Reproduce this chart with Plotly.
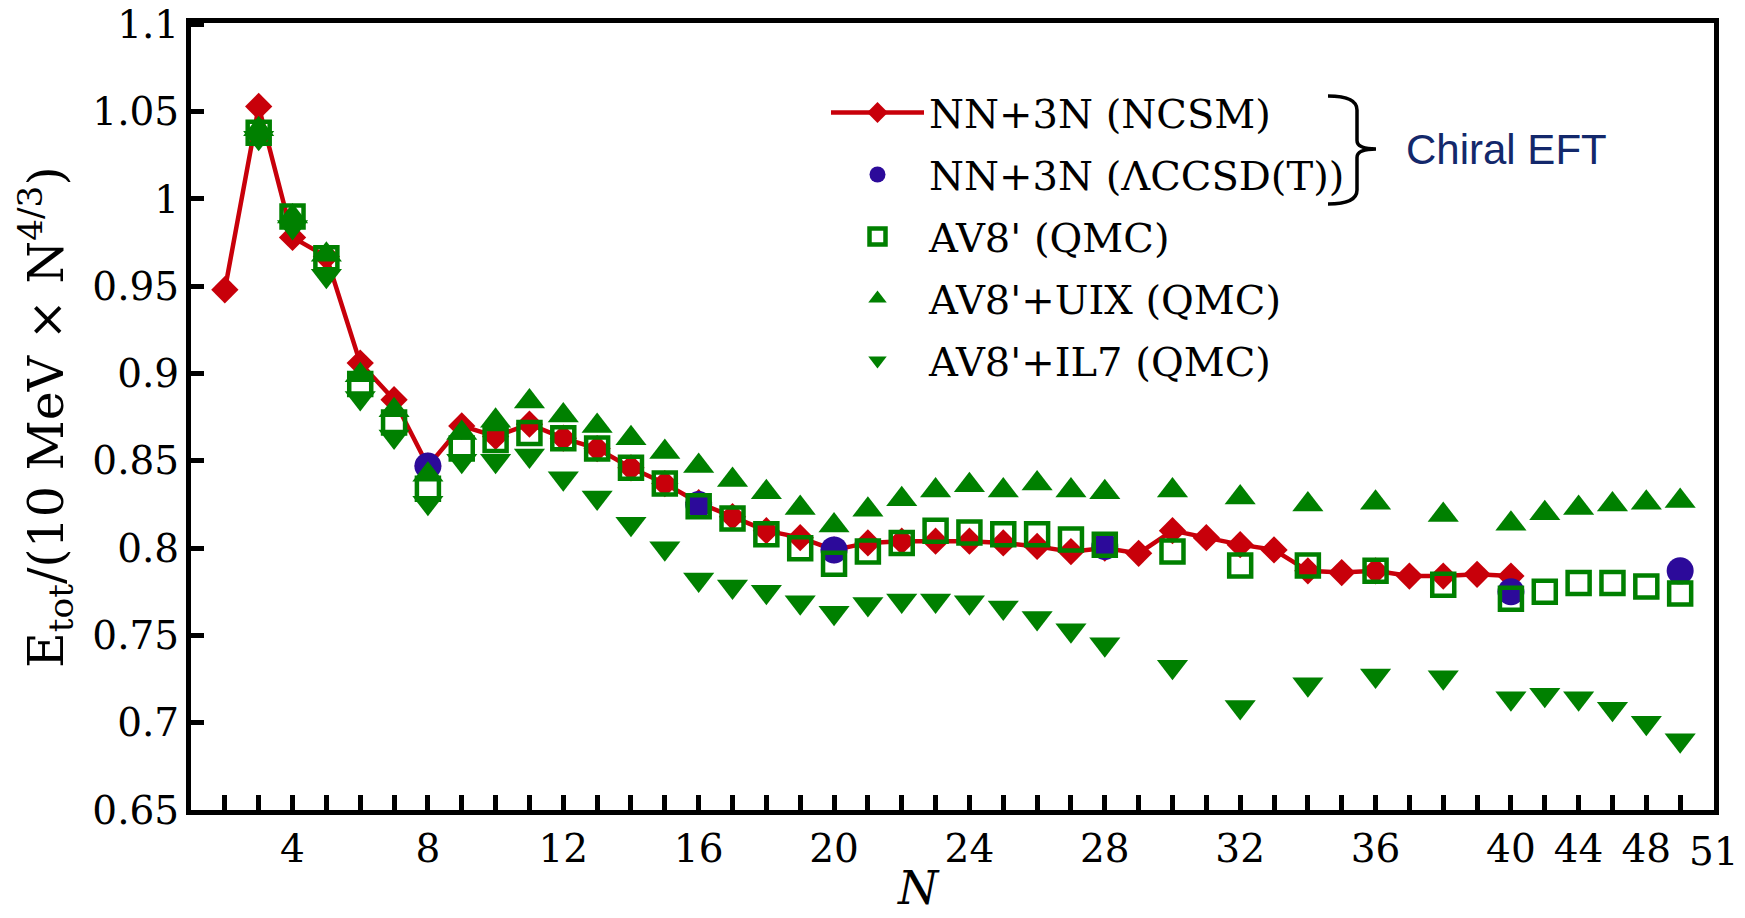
import plotly.graph_objects as go

# ---- data -------------------------------------------------------------
# NN+3N chiral EFT, NCSM (every N from 2 to 40)
N_NCSM = list(range(2, 41))
E_NCSM = [0.948, 1.053, 0.978, 0.967, 0.906, 0.885, 0.847, 0.870, 0.864, 0.871,
          0.863, 0.857, 0.846, 0.837, 0.826, 0.818, 0.810, 0.806, 0.799, 0.803,
          0.804, 0.804, 0.804, 0.803, 0.801, 0.798, 0.800, 0.797, 0.810, 0.806,
          0.802, 0.799, 0.787, 0.786, 0.787, 0.784, 0.784, 0.785, 0.784]

# NN+3N chiral EFT, Lambda-CCSD(T)
N_CC = [8, 16, 20, 28, 40, 50]
E_CC = [0.847, 0.825, 0.799, 0.801, 0.775, 0.787]

# QMC results with Argonne potentials
N_QMC = list(range(3, 29)) + list(range(30, 51, 2))
E_AV8 = [1.038, 0.990, 0.966, 0.894, 0.872, 0.834, 0.857, 0.862, 0.866, 0.863,
         0.857, 0.846, 0.837, 0.824, 0.817, 0.808, 0.800, 0.791, 0.798, 0.803,
         0.810, 0.809, 0.808, 0.808, 0.805, 0.802,
         0.798, 0.790, 0.790, 0.787, 0.779, 0.771, 0.775, 0.780, 0.780, 0.778, 0.774]
E_UIX = [1.040, 0.990, 0.968, 0.899, 0.879, 0.842, 0.866, 0.873, 0.884, 0.876,
         0.870, 0.863, 0.855, 0.847, 0.839, 0.832, 0.823, 0.813, 0.822, 0.828,
         0.833, 0.836, 0.833, 0.837, 0.833, 0.832,
         0.833, 0.829, 0.825, 0.826, 0.819, 0.814, 0.820, 0.823, 0.825, 0.826, 0.827]
E_IL7 = [1.035, 0.984, 0.956, 0.886, 0.864, 0.826, 0.850, 0.850, 0.853, 0.840,
         0.829, 0.814, 0.800, 0.782, 0.778, 0.775, 0.769, 0.763, 0.768, 0.770,
         0.770, 0.769, 0.766, 0.760, 0.753, 0.745,
         0.732, 0.709, 0.722, 0.727, 0.726, 0.714, 0.716, 0.714, 0.708, 0.700, 0.690]

# ---- axis ticks -------------------------------------------------------
N_TICKS = list(range(2, 41)) + list(range(42, 51, 2))
N_LABELED = [4, 8, 12, 16, 20, 24, 28, 32, 36, 40, 44, 48]
N_EDGE = 52            # right end of the axis
EDGE_TEXT = "51"
Y_TICKS = [0.65, 0.70, 0.75, 0.80, 0.85, 0.90, 0.95, 1.00, 1.05, 1.10]
Y_TICK_TEXT = ["0.65", "0.7", "0.75", "0.8", "0.85", "0.9", "0.95", "1", "1.05", "1.1"]

BREAK = 40


def axis_pos(n):
    """Linear in N up to the break, compressed by half beyond it."""
    return n if n <= BREAK else BREAK + (n - BREAK) / 2


def to_pos(ns):
    return [axis_pos(n) for n in ns]


# ---- styling ----------------------------------------------------------
SERIF = "DejaVu Serif, serif"
RED = "#c8000a"
BLUE = "#2c0a9a"
GREEN = "#008000"
TICK_SIZE = 39

W, H = 1745, 918
ML, MR, MT, MB = 191, 31, 23, 108

fig = go.Figure()

fig.add_trace(go.Scatter(
    x=to_pos(N_NCSM), y=E_NCSM, mode="lines+markers",
    name="NN+3N (NCSM)", legendrank=1, legendgroup="ncsm",
    line=dict(color=RED, width=4.5),
    marker=dict(symbol="diamond", size=21, color=RED),
))
fig.add_trace(go.Scatter(
    x=to_pos(N_CC), y=E_CC, mode="markers",
    name="NN+3N (ΛCCSD(T))", legendrank=2, legendgroup="cc",
    marker=dict(symbol="circle", size=27, color=BLUE),
))
fig.add_trace(go.Scatter(
    x=to_pos(N_QMC), y=E_UIX, mode="markers",
    name="AV8'+UIX (QMC)", legendrank=4, legendgroup="uix",
    marker=dict(symbol="triangle-up", size=27, color=GREEN),
))
fig.add_trace(go.Scatter(
    x=to_pos(N_QMC), y=E_IL7, mode="markers",
    name="AV8'+IL7 (QMC)", legendrank=5, legendgroup="il7",
    marker=dict(symbol="triangle-down", size=27, color=GREEN),
))
fig.add_trace(go.Scatter(
    x=to_pos(N_QMC), y=E_AV8, mode="markers",
    name="AV8' (QMC)", legendrank=3, legendgroup="av8",
    marker=dict(symbol="square-open", size=22, color=GREEN,
                line=dict(color=GREEN, width=4.5)),
))

fig.update_xaxes(
    range=[1, axis_pos(N_EDGE)], tickmode="array",
    tickvals=to_pos(N_TICKS),
    ticktext=[str(n) if n in N_LABELED else "" for n in N_TICKS],
    ticks="inside", ticklen=15, tickwidth=5, tickcolor="black",
    showline=True, linewidth=5, linecolor="black", mirror=True,
    showgrid=False, zeroline=False, ticklabelstandoff=0, automargin=False,
    tickfont=dict(family=SERIF, size=TICK_SIZE, color="black"),
)
fig.update_yaxes(
    range=[0.65, 1.1008], tickmode="array",
    tickvals=Y_TICKS, ticktext=Y_TICK_TEXT,
    ticks="inside", ticklen=13, tickwidth=5, tickcolor="black",
    showline=True, linewidth=5, linecolor="black", mirror=True,
    showgrid=False, zeroline=False, ticklabelstandoff=-1, automargin=False,
    tickfont=dict(family=SERIF, size=TICK_SIZE, color="black"),
)

pw = W - ML - MR
ph = H - MT - MB


def px_x(px):
    return (px - ML) / pw


def px_y(py):
    return (H - MB - py) / ph


# curly brace grouping the two chiral EFT entries
bx0, bx1, btip = px_x(1328), px_x(1357), px_x(1376)
by_top, by_mid, by_bot = px_y(96), px_y(149), px_y(204)
dy = px_y(96) - px_y(110)
brace = (
    f"M {bx0},{by_top} Q {bx1},{by_top} {bx1},{by_top - dy} "
    f"L {bx1},{by_mid + dy * 0.6} Q {bx1},{by_mid} {btip},{by_mid} "
    f"Q {bx1},{by_mid} {bx1},{by_mid - dy * 0.6} "
    f"L {bx1},{by_bot + dy} Q {bx1},{by_bot} {bx0},{by_bot}"
)
fig.add_shape(type="path", path=brace, xref="paper", yref="paper",
              line=dict(color="black", width=3.5))

fig.add_annotation(
    x=px_x(1404), y=px_y(149), xref="paper", yref="paper",
    text="Chiral EFT", showarrow=False, xanchor="left", yanchor="middle",
    font=dict(family="Liberation Sans, Arial, sans-serif", size=42, color="#13286b"),
)

# label at the right end of the N axis
fig.add_annotation(
    x=axis_pos(N_EDGE), y=0, xref="x", yref="paper",
    text=EDGE_TEXT, showarrow=False, xanchor="center", yanchor="top",
    yshift=-17, font=dict(family=SERIF, size=TICK_SIZE, color="black"),
)

# axis titles
fig.add_annotation(
    x=px_x(918), y=px_y(917), xref="paper", yref="paper",
    text="<i>N</i>", showarrow=False, xanchor="center", yanchor="bottom",
    font=dict(family=SERIF, size=46, color="black"),
)
fig.add_annotation(
    x=px_x(45), y=px_y(417), xref="paper", yref="paper",
    text="E<sub>tot</sub>/(10 MeV × N<sup>4/3</sup>)", textangle=-90,
    showarrow=False, xanchor="center", yanchor="middle",
    font=dict(family=SERIF, size=49, color="black"),
)

fig.update_layout(
    width=W, height=H,
    margin=dict(l=ML, r=MR, t=MT, b=MB, autoexpand=False),
    paper_bgcolor="white", plot_bgcolor="white",
    showlegend=True,
    legend=dict(
        x=px_x(826), y=px_y(80), xanchor="left", yanchor="top",
        bgcolor="rgba(0,0,0,0)", borderwidth=0,
        font=dict(family=SERIF, size=40, color="black"),
        itemwidth=93, itemsizing="trace",
        traceorder="grouped", tracegroupgap=7,
    ),
)

fig.write_html("out.html")
